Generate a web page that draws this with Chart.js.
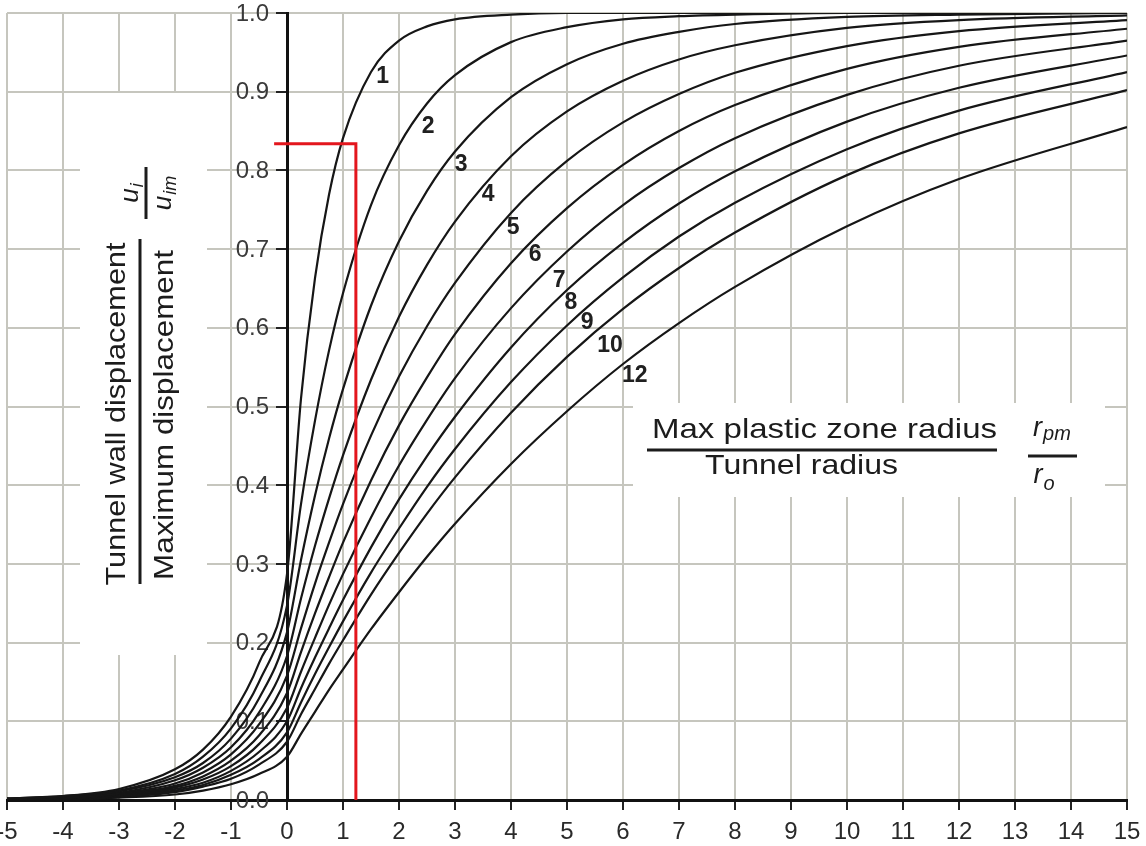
<!DOCTYPE html>
<html>
<head>
<meta charset="utf-8">
<title>Tunnel wall displacement profiles</title>
<script src="https://cdn.jsdelivr.net/npm/chart.js@4.4.1/dist/chart.umd.min.js"></script>
<style>
  html, body { margin: 0; padding: 0; background: #fff; }
  #wrap { width: 1146px; height: 846px; }
</style>
</head>
<body>
<div id="wrap"><canvas id="chart" width="1146" height="846"></canvas></div>
<script>
// distance from the face (x / tunnel radius)
const xDist = [-5, -4, -3, -2, -1.5, -1, -0.5, 0, 0.25, 0.5, 0.75, 1, 1.5, 2, 2.5, 3, 4, 5, 6, 7, 8, 10, 12, 15];

// u_i / u_im for each r_pm / r_o curve
const curve1  = [0.002, 0.005, 0.014, 0.039, 0.064, 0.106, 0.174, 0.287, 0.510, 0.663, 0.769, 0.841, 0.925, 0.965, 0.983, 0.992, 0.998, 1.0, 1.0, 1.0, 1.0, 1.0, 1.0, 1.0];
const curve2  = [0.002, 0.005, 0.012, 0.033, 0.055, 0.091, 0.150, 0.247, 0.376, 0.482, 0.571, 0.644, 0.756, 0.832, 0.885, 0.921, 0.963, 0.982, 0.992, 0.996, 0.998, 1.0, 1.0, 1.0];
const curve3  = [0.001, 0.004, 0.011, 0.029, 0.047, 0.078, 0.129, 0.213, 0.305, 0.387, 0.459, 0.522, 0.628, 0.710, 0.774, 0.824, 0.893, 0.935, 0.961, 0.976, 0.986, 0.995, 0.998, 1.0];
const curve4  = [0.001, 0.003, 0.009, 0.025, 0.041, 0.067, 0.111, 0.183, 0.256, 0.323, 0.383, 0.438, 0.534, 0.614, 0.680, 0.735, 0.818, 0.875, 0.914, 0.941, 0.959, 0.981, 0.991, 0.997];
const curve5  = [0.001, 0.003, 0.008, 0.021, 0.035, 0.058, 0.096, 0.158, 0.218, 0.275, 0.327, 0.376, 0.463, 0.538, 0.602, 0.657, 0.746, 0.812, 0.861, 0.897, 0.924, 0.958, 0.977, 0.991];
const curve6  = [0.001, 0.002, 0.007, 0.018, 0.030, 0.050, 0.082, 0.136, 0.188, 0.237, 0.283, 0.327, 0.406, 0.476, 0.537, 0.592, 0.682, 0.752, 0.807, 0.850, 0.883, 0.929, 0.957, 0.980];
const curve7  = [0.001, 0.002, 0.006, 0.016, 0.026, 0.043, 0.071, 0.117, 0.163, 0.206, 0.248, 0.287, 0.359, 0.425, 0.483, 0.536, 0.625, 0.697, 0.756, 0.803, 0.841, 0.896, 0.933, 0.965];
const curve8  = [0.001, 0.002, 0.005, 0.014, 0.022, 0.037, 0.061, 0.100, 0.142, 0.181, 0.218, 0.254, 0.321, 0.382, 0.437, 0.487, 0.575, 0.648, 0.708, 0.758, 0.799, 0.862, 0.905, 0.946];
const curve9  = [0.001, 0.002, 0.004, 0.012, 0.019, 0.032, 0.052, 0.086, 0.124, 0.160, 0.194, 0.227, 0.289, 0.345, 0.398, 0.446, 0.531, 0.603, 0.664, 0.716, 0.759, 0.827, 0.876, 0.925];
const curve10 = [0.001, 0.001, 0.004, 0.010, 0.017, 0.027, 0.045, 0.074, 0.109, 0.141, 0.173, 0.203, 0.261, 0.314, 0.364, 0.410, 0.492, 0.563, 0.624, 0.676, 0.721, 0.794, 0.847, 0.902];
const curve12 = [0.000, 0.001, 0.003, 0.007, 0.012, 0.020, 0.033, 0.055, 0.084, 0.112, 0.140, 0.166, 0.217, 0.264, 0.309, 0.351, 0.427, 0.494, 0.554, 0.606, 0.652, 0.729, 0.789, 0.855];

const curveNames = ["1", "2", "3", "4", "5", "6", "7", "8", "9", "10", "12"];
const curveSets = [curve1, curve2, curve3, curve4, curve5, curve6, curve7, curve8, curve9, curve10, curve12];

// where each curve number is written (data units)
const labelX = [1.71, 2.52, 3.11, 3.59, 4.04, 4.43, 4.86, 5.07, 5.36, 5.77, 6.21];
const labelY = [0.919, 0.855, 0.807, 0.769, 0.727, 0.693, 0.660, 0.632, 0.606, 0.577, 0.539];

// red reading line
const readX = [-0.23, 1.23, 1.23];
const readY = [0.834, 0.834, 0.0];

const FONT = "'Liberation Sans', Arial, sans-serif";

function toPoints(xs, ys) {
    return xs.map((x, i) => ({ x: x, y: ys[i] }));
}

let datasets = [{
    label: "reading",
    data: toPoints(readX, readY),
    borderColor: "#e3161d",
    borderWidth: 3,
    pointRadius: 0,
    tension: 0
}];

curveSets.forEach((vals, i) => {
    datasets.push({
        label: curveNames[i],
        data: toPoints(xDist, vals),
        borderColor: "#161616",
        borderWidth: 2.2,
        pointRadius: 0,
        cubicInterpolationMode: "monotone"
    });
});

// text written as a fixed width (the original lettering is a little stretched)
function fitText(ctx, text, cx, y, width) {
    let w = ctx.measureText(text).width;
    ctx.save();
    ctx.translate(cx, y);
    ctx.scale(width / w, 1);
    ctx.textAlign = "center";
    ctx.fillText(text, 0, 0);
    ctx.restore();
}

// italic symbol with a subscript, centred on 0
function symbolText(ctx, main, sub, size, subSize, drop) {
    ctx.font = "italic " + size + "px " + FONT;
    let w1 = ctx.measureText(main).width;
    ctx.font = "italic " + subSize + "px " + FONT;
    let w2 = ctx.measureText(sub).width;
    let start = -(w1 + w2 + 1) / 2;
    ctx.textAlign = "left";
    ctx.font = "italic " + size + "px " + FONT;
    ctx.fillText(main, start, 0);
    ctx.font = "italic " + subSize + "px " + FONT;
    ctx.fillText(sub, start + w1 + 1, drop);
}

const titlePlugin = {
    id: "titles",
    beforeDatasetsDraw(chart) {
        const ctx = chart.ctx;
        const xs = chart.scales.x;
        const ys = chart.scales.y;
        ctx.save();

        // y tick labels sit left of the x = 0 axis
        ctx.font = "24px " + FONT;
        ctx.fillStyle = "#3a3a3a";
        ctx.textAlign = "right";
        ctx.textBaseline = "middle";
        const axisX = xs.getPixelForValue(0);
        ys.ticks.forEach((t) => {
            ctx.fillText(t.value.toFixed(1), axisX - 18, ys.getPixelForValue(t.value) + 1);
        });

        ctx.fillStyle = "#fff";
        ctx.fillRect(80, 93, 127, 562);
        ctx.fillRect(633, 403, 472, 94);

        ctx.fillStyle = "#1c1c1c";
        ctx.strokeStyle = "#1c1c1c";
        ctx.textBaseline = "alphabetic";

        // y title, rotated
        ctx.save();
        ctx.font = "28px " + FONT;
        ctx.translate(125, 414);
        ctx.rotate(-Math.PI / 2);
        fitText(ctx, "Tunnel wall displacement", 0, 0, 343);
        ctx.restore();

        ctx.save();
        ctx.font = "28px " + FONT;
        ctx.translate(173, 415);
        ctx.rotate(-Math.PI / 2);
        fitText(ctx, "Maximum displacement", 0, 0, 330);
        ctx.restore();

        ctx.lineWidth = 3;
        ctx.beginPath();
        ctx.moveTo(140, 239);
        ctx.lineTo(140, 584);
        ctx.moveTo(146, 167);
        ctx.lineTo(146, 219);
        ctx.stroke();

        ctx.save();
        ctx.translate(138, 193);
        ctx.rotate(-Math.PI / 2);
        symbolText(ctx, "u", "i", 26, 18, 5);
        ctx.restore();

        ctx.save();
        ctx.translate(171, 193);
        ctx.rotate(-Math.PI / 2);
        symbolText(ctx, "u", "im", 26, 18, 5);
        ctx.restore();

        // x title
        ctx.font = "28px " + FONT;
        fitText(ctx, "Max plastic zone radius", 824.5, 438, 345);
        fitText(ctx, "Tunnel radius", 801.5, 474, 193);
        ctx.beginPath();
        ctx.moveTo(647, 450);
        ctx.lineTo(997, 450);
        ctx.moveTo(1028, 456);
        ctx.lineTo(1077, 456);
        ctx.stroke();

        ctx.save();
        ctx.translate(1052, 436);
        symbolText(ctx, "r", "pm", 27, 20, 4);
        ctx.restore();
        ctx.save();
        ctx.translate(1044, 483);
        symbolText(ctx, "r", "o", 27, 20, 7);
        ctx.restore();

        ctx.restore();
    },
    afterDatasetsDraw(chart) {
        const ctx = chart.ctx;
        const xs = chart.scales.x;
        const ys = chart.scales.y;
        ctx.save();
        ctx.font = "bold 23px " + FONT;
        ctx.fillStyle = "#202020";
        ctx.textAlign = "center";
        ctx.textBaseline = "middle";
        curveNames.forEach((name, i) => {
            ctx.fillText(name, xs.getPixelForValue(labelX[i]), ys.getPixelForValue(labelY[i]));
        });
        ctx.restore();
    }
};

const ctx = document.getElementById("chart").getContext("2d");

new Chart(ctx, {
    type: "line",
    data: { datasets: datasets },
    options: {
        responsive: false,
        animation: false,
        devicePixelRatio: 1,
        layout: {
            autoPadding: false,
            padding: { left: 7, right: 19, top: 13, bottom: 0 }
        },
        plugins: {
            legend: { display: false },
            tooltip: { enabled: false }
        },
        scales: {
            x: {
                type: "linear",
                position: "bottom",
                min: -5,
                max: 15,
                afterFit: (scale) => {
                    scale.height = 46;
                    scale.paddingLeft = 0;
                    scale.paddingRight = 0;
                },
                ticks: {
                    stepSize: 1,
                    autoSkip: false,
                    maxRotation: 0,
                    padding: 8,
                    color: "#2a2a2a",
                    font: { family: FONT, size: 24 }
                },
                grid: {
                    color: "#c6c6be",
                    lineWidth: 2,
                    tickLength: 10,
                    tickColor: "#222",
                    tickWidth: 2
                },
                border: { color: "#111", width: 3 }
            },
            y: {
                type: "linear",
                position: { x: 0 },
                min: 0,
                max: 1,
                afterFit: (scale) => {
                    scale.paddingTop = 0;
                    scale.paddingBottom = 0;
                },
                ticks: {
                    stepSize: 0.1,
                    display: false
                },
                grid: {
                    color: "#c6c6be",
                    lineWidth: 2,
                    tickLength: 10,
                    tickColor: "#222",
                    tickWidth: 2
                },
                border: { color: "#111", width: 3 }
            }
        }
    },
    plugins: [titlePlugin]
});
</script>
</body>
</html>
